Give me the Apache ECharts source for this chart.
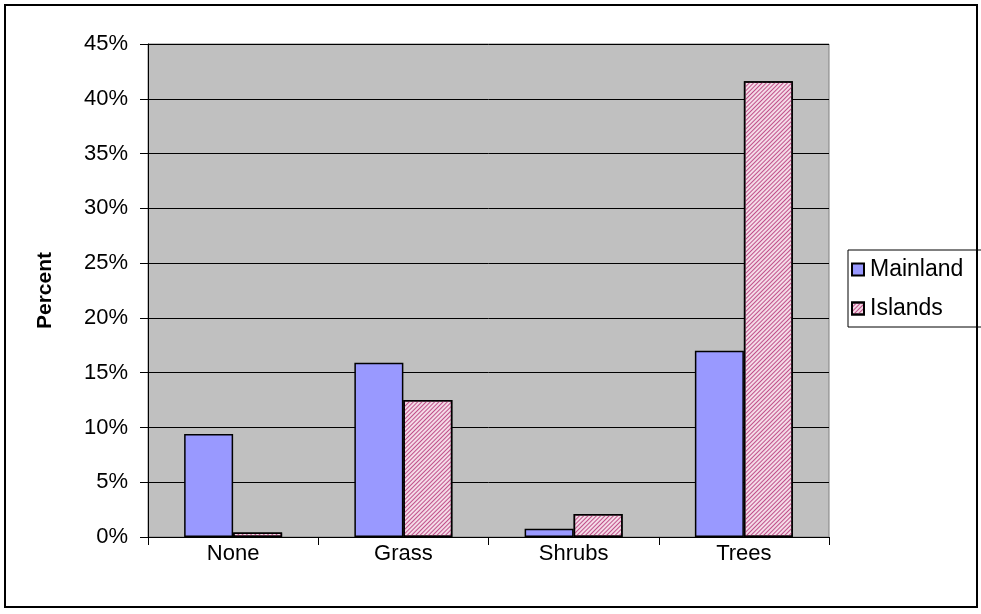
<!DOCTYPE html>
<html>
<head>
<meta charset="utf-8">
<script src="https://cdn.jsdelivr.net/npm/echarts@6/dist/echarts.min.js"></script>
<style>
  html, body { margin: 0; padding: 0; background: #fff; }
  #chart { width: 981px; height: 614px; }
</style>
</head>
<body>
<div id="chart"></div>
<script>
// Ground-cover categories and shares (percent) for each region
const categories = ['None', 'Grass', 'Shrubs', 'Trees'];
const mainland = [9.4, 15.9, 0.75, 17.0];
const islands = [0.4, 12.5, 2.1, 41.6];
const seriesNames = ['Mainland', 'Islands'];
const yTicks = { min: 0, max: 45, step: 5 };

// Fine diagonal hatch for the Islands bars (pink lines over a pale base)
const islandsHatch = {
  symbol: 'rect',
  symbolSize: 1,
  dashArrayX: [1, 0],
  dashArrayY: [1, 2],
  rotation: -Math.PI / 4,
  color: '#c0508a'
};

const font = '"Liberation Sans", Arial, sans-serif';
const chart = echarts.init(document.getElementById('chart'), null, { renderer: 'canvas' });

chart.setOption({
  animation: false,
  backgroundColor: '#ffffff',
  textStyle: { fontFamily: font, color: '#000' },
  grid: { left: 148, right: 152, top: 44, bottom: 77, show: true, backgroundColor: '#c0c0c0', borderColor: '#808080', borderWidth: 1 },
  legend: {
    left: 848, top: 250,
    orient: 'vertical',
    itemWidth: 12, itemHeight: 12, itemGap: 16,
    padding: [8, 30, 7, 3],
    backgroundColor: '#ffffff', borderColor: '#000000', borderWidth: 1,
    textStyle: { fontFamily: font, fontSize: 23, color: '#000', padding: [0, 0, 0, 1] },
    data: seriesNames.map(n => ({ name: n, icon: 'rect' }))
  },
  xAxis: {
    type: 'category',
    data: categories,
    axisLine: { lineStyle: { color: '#000', width: 1 } },
    axisTick: { show: true, length: 8, lineStyle: { color: '#000' } },
    axisLabel: { fontFamily: font, fontSize: 22, color: '#000', margin: 6 },
    splitLine: { show: false }
  },
  yAxis: {
    type: 'value',
    min: yTicks.min, max: yTicks.max, interval: yTicks.step,
    name: 'Percent',
    nameLocation: 'middle',
    nameGap: 92,
    nameRotate: 90,
    nameTextStyle: { fontFamily: font, fontSize: 21, fontWeight: 'bold', color: '#000' },
    axisLine: { show: true, lineStyle: { color: '#000', width: 1 } },
    axisTick: { show: true, length: 8, lineStyle: { color: '#000' } },
    axisLabel: { fontFamily: font, fontSize: 22, color: '#000', margin: 20, formatter: '{value}%' },
    splitLine: { show: true, lineStyle: { color: '#000', width: 1 } }
  },
  series: [
    {
      name: seriesNames[0], type: 'bar', data: mainland,
      barWidth: 49, barGap: '0%',
      itemStyle: { color: '#9999ff', borderColor: '#000', borderWidth: 1.5 }
    },
    {
      name: seriesNames[1], type: 'bar', data: islands,
      barWidth: 49, barGap: '0%',
      itemStyle: { color: '#f4dbe7', borderColor: '#000', borderWidth: 1.5, decal: islandsHatch }
    }
  ],
  graphic: [
    {
      type: 'rect', silent: true, z: 100,
      shape: { x: 5, y: 5, width: 972, height: 602 },
      style: { fill: 'none', stroke: '#000', lineWidth: 2 }
    }
  ]
});
</script>
</body>
</html>
